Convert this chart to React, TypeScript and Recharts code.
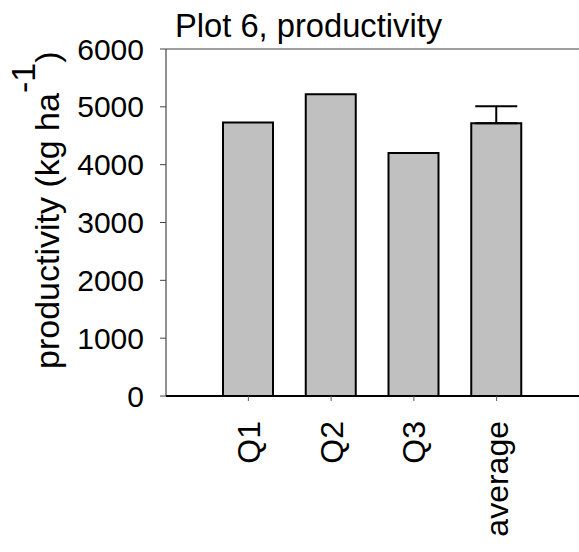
import { Bar, BarChart, ErrorBar, ReferenceLine, XAxis, YAxis } from "recharts";

const categories = ["Q1", "Q2", "Q3", "average"];
const productivity = [4727, 5217, 4203, 4716];
const upperError = [null, null, null, 293];
const yTicks = [0, 1000, 2000, 3000, 4000, 5000, 6000];

const data = categories.map((name, i) => ({
    name,
    value: productivity[i],
    err: upperError[i] == null ? undefined : [0, upperError[i]],
}));

const FONT = "'Liberation Sans', Arial, sans-serif";

function RotatedTick({ x, y, payload }: any) {
    return (
        <g transform={`translate(${x},${y})`}>
            <text
                transform="rotate(-90)"
                x={-18}
                dy="0.36em"
                textAnchor="end"
                fill="#000"
                fontSize={32}
                fontFamily={FONT}
            >
                {payload.value}
            </text>
        </g>
    );
}

export default function App() {
    return (
        <div style={{ position: "absolute", left: 0, top: 0, width: 579, height: 552, background: "#fff" }}>
            <BarChart
                width={579}
                height={552}
                data={data}
                margin={{ top: 49, right: 0, bottom: 6, left: 0 }}
                barSize={50}
            >
                <XAxis
                    dataKey="name"
                    height={150}
                    padding={{ left: 41, right: 41 }}
                    axisLine={{ stroke: "#000", strokeWidth: 2 }}
                    tickLine={{ stroke: "#555" }}
                    tickSize={5}
                    tick={<RotatedTick />}
                    interval={0}
                />
                <YAxis
                    width={166}
                    domain={[0, 6000]}
                    ticks={yTicks}
                    axisLine={{ stroke: "#222" }}
                    tickLine={{ stroke: "#444" }}
                    tickSize={6}
                    tickMargin={16}
                    tick={{ fill: "#000", fontSize: 30, fontFamily: FONT }}
                />
                <ReferenceLine y={6000} stroke="#808080" strokeWidth={1.5} />
                <Bar dataKey="value" fill="#c0c0c0" stroke="#000" strokeWidth={2} isAnimationActive={false}>
                    <ErrorBar dataKey="err" direction="y" width={21} stroke="#000" strokeWidth={2} />
                </Bar>
            </BarChart>
            <svg
                width={579}
                height={552}
                style={{ position: "absolute", left: 0, top: 0, pointerEvents: "none" }}
                fontFamily={FONT}
            >
                <text x={175} y={37} fontSize={32.7} fill="#000">
                    Plot 6, productivity
                </text>
                <text transform="translate(59,369) rotate(-90)" fontSize={34} fill="#000">
                    productivity (kg ha
                    <tspan dy={-24}>-1</tspan>
                    <tspan dy={24}>)</tspan>
                </text>
            </svg>
        </div>
    );
}
